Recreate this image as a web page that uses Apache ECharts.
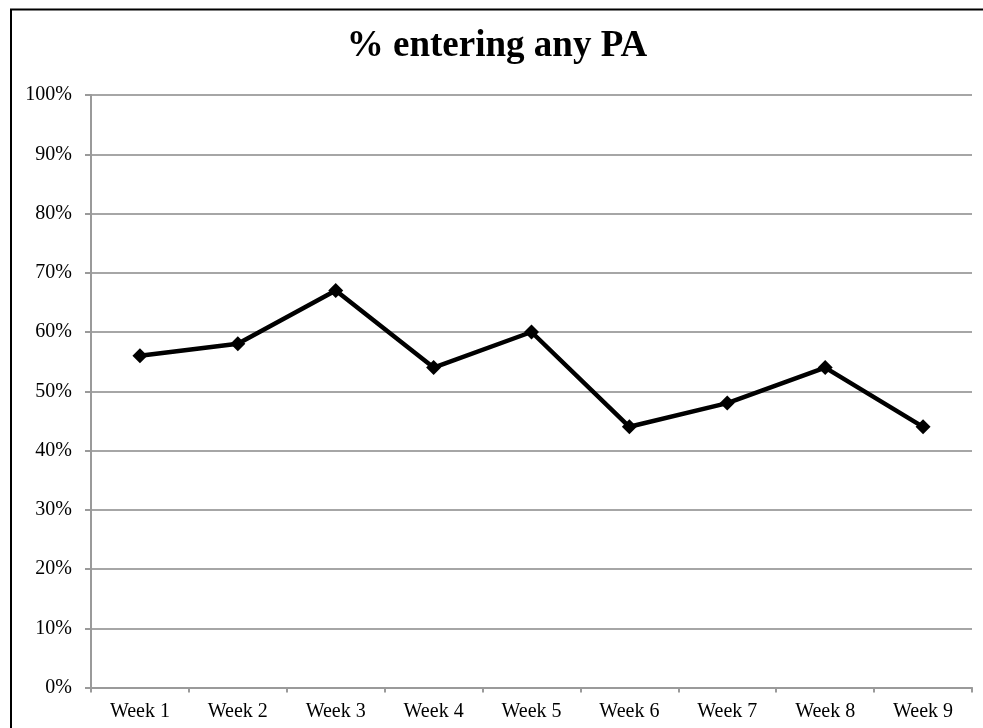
<!DOCTYPE html>
<html><head><meta charset="utf-8">
<script src="https://cdn.jsdelivr.net/npm/echarts@6/dist/echarts.min.js"></script>
<style>html,body{margin:0;padding:0;background:#fff}#c{width:983px;height:728px}</style>
</head><body><div id="c"></div>
<script>
const categories = ['Week 1','Week 2','Week 3','Week 4','Week 5','Week 6','Week 7','Week 8','Week 9'];
const values = [56, 58, 67, 54, 60, 44, 48, 54, 44];
const title = '% entering any PA';
const chart = echarts.init(document.getElementById('c'));
const font = "'Liberation Serif','Times New Roman',serif";
chart.setOption({
  animation: false,
  backgroundColor: '#fff',
  graphic: [
    {type: 'rect', shape: {x: 11, y: 9.5, width: 1200, height: 1000}, style: {fill: 'none', stroke: '#000', lineWidth: 2}, silent: true},
    {type: 'text', x: 497, y: 46, style: {text: title, font: "bold 37px 'Liberation Serif','Times New Roman',serif", fill: '#000', textAlign: 'center', textVerticalAlign: 'middle'}, silent: true}
  ],
  grid: {left: 91, right: 11, top: 95, bottom: 40.5},
  xAxis: {type: 'category', data: categories, boundaryGap: true,
    axisLine: {lineStyle: {color: '#9a9a9a', width: 2}},
    axisTick: {show: true, alignWithLabel: false, length: 5, lineStyle: {color: '#9a9a9a', width: 2}},
    axisLabel: {fontFamily: font, fontSize: 20, color: '#000', margin: 14}},
  yAxis: {type: 'value', min: 0, max: 100, interval: 10,
    axisLine: {show: true, lineStyle: {color: '#9a9a9a', width: 2}},
    axisTick: {show: true, length: 6, lineStyle: {color: '#9a9a9a', width: 2}},
    splitLine: {lineStyle: {color: '#a6a6a6', width: 2}},
    axisLabel: {fontFamily: font, fontSize: 20, color: '#000', margin: 19, formatter: '{value}%'}},
  series: [{type: 'line', data: values, symbol: 'diamond', symbolSize: 15,
    lineStyle: {color: '#000', width: 4.5}, itemStyle: {color: '#000'}}]
});
</script></body></html>
